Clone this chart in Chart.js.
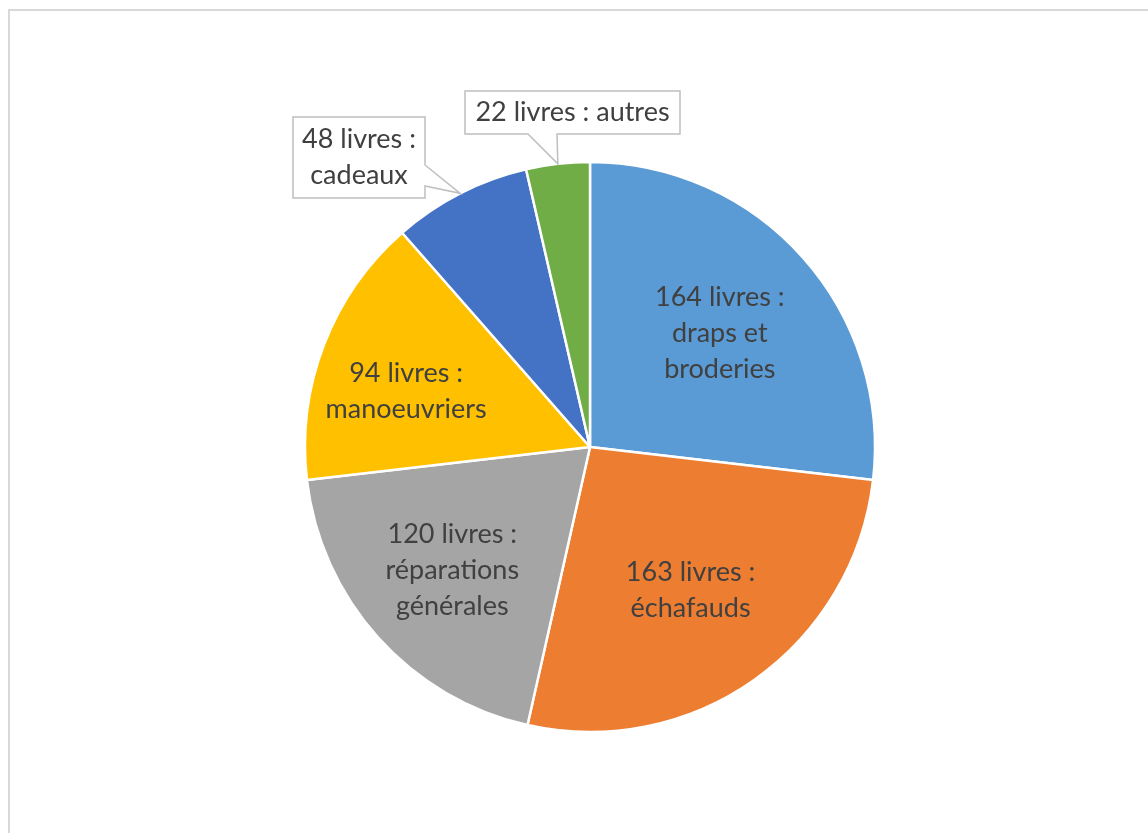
<!DOCTYPE html>
<html>
<head>
<meta charset="utf-8">
<script src="https://cdn.jsdelivr.net/npm/chart.js@4"></script>
<style>
  html, body { margin: 0; padding: 0; background: #ffffff; }
  canvas { display: block; }
</style>
</head>
<body>
<canvas id="c" width="1148" height="833"></canvas>
<script>
// ---- Data ----
const categories = ["draps et broderies", "échafauds", "réparations générales", "manoeuvriers", "cadeaux", "autres"];
const values = [164, 163, 120, 94, 48, 22];
const unitLabel = "livres";
const labelLines = [
  ["164 livres :", "draps et", "broderies"],
  ["163 livres :", "échafauds"],
  ["120 livres :", "réparations", "générales"],
  ["94 livres :", "manoeuvriers"],
  ["48 livres :", "cadeaux"],
  ["22 livres : autres"]
];
const colors = ["#5B9BD5", "#ED7D31", "#A5A5A5", "#FFC000", "#4472C4", "#70AD47"];

const FONT = "27px Lato, 'Open Sans', sans-serif";
const TEXT_COLOR = "#404040";
const LINE_H = 36;

// Label placement (layout options)
const insideFrac = [0.61, 0.61, 0.65, 0.68];
const insideShift = [[0, 2], [0, 2], [0, -1], [-3, 14]];
const callouts = {
  4: { box: [293, 117, 425, 198], wedge: "right", base: [165, 186] },
  5: { box: [465, 91, 680, 134], wedge: "bottom", base: [528, 557] }
};

const framePlugin = {
  id: "frame",
  beforeDraw(chart) {
    const ctx = chart.ctx;
    ctx.save();
    ctx.fillStyle = "#ffffff";
    ctx.fillRect(0, 0, chart.width, chart.height);
    ctx.strokeStyle = "#D9D9D9";
    ctx.lineWidth = 2;
    ctx.strokeRect(9, 10, chart.width + 20, chart.height + 20);
    ctx.restore();
  }
};

const labelPlugin = {
  id: "sliceLabels",
  afterDatasetsDraw(chart) {
    const ctx = chart.ctx;
    const meta = chart.getDatasetMeta(0);
    ctx.save();
    ctx.font = FONT;
    ctx.textAlign = "center";
    ctx.textBaseline = "middle";
    meta.data.forEach((arc, i) => {
      const p = arc.getProps(["x", "y", "startAngle", "endAngle", "outerRadius"], true);
      const mid = (p.startAngle + p.endAngle) / 2;
      const lines = labelLines[i];
      if (callouts[i]) {
        const c = callouts[i];
        const tipX = p.x + Math.cos(mid) * p.outerRadius;
        const tipY = p.y + Math.sin(mid) * p.outerRadius;
        const [x0, y0, x1, y1] = c.box;
        ctx.beginPath();
        ctx.moveTo(x0, y0);
        ctx.lineTo(x1, y0);
        if (c.wedge === "right") {
          ctx.lineTo(x1, c.base[0]);
          ctx.lineTo(tipX, tipY);
          ctx.lineTo(x1, c.base[1]);
          ctx.lineTo(x1, y1);
          ctx.lineTo(x0, y1);
        } else {
          ctx.lineTo(x1, y1);
          ctx.lineTo(c.base[1], y1);
          ctx.lineTo(tipX, tipY);
          ctx.lineTo(c.base[0], y1);
          ctx.lineTo(x0, y1);
        }
        ctx.closePath();
        ctx.fillStyle = "#ffffff";
        ctx.fill();
        ctx.strokeStyle = "#BFBFBF";
        ctx.lineWidth = 1.5;
        ctx.stroke();
        const cx = (x0 + x1) / 2, cy = (y0 + y1) / 2;
        ctx.fillStyle = TEXT_COLOR;
        lines.forEach((t, k) => {
          ctx.fillText(t, cx, cy + (k - (lines.length - 1) / 2) * LINE_H);
        });
      } else {
        const r = p.outerRadius * insideFrac[i];
        const cx = p.x + Math.cos(mid) * r + insideShift[i][0];
        const cy = p.y + Math.sin(mid) * r + insideShift[i][1];
        ctx.fillStyle = TEXT_COLOR;
        lines.forEach((t, k) => {
          ctx.fillText(t, cx, cy + (k - (lines.length - 1) / 2) * LINE_H);
        });
      }
    });
    ctx.restore();
  }
};

new Chart(document.getElementById("c"), {
  type: "pie",
  data: {
    labels: categories,
    datasets: [{
      data: values,
      backgroundColor: colors,
      borderColor: "#ffffff",
      borderWidth: 2.5,
      hoverOffset: 0
    }]
  },
  options: {
    responsive: false,
    animation: false,
    devicePixelRatio: 1,
    radius: 285,
    layout: { padding: { left: 300, right: 268, top: 157, bottom: 96 } },
    plugins: {
      legend: { display: false },
      tooltip: { enabled: false },
      title: { display: false }
    },
    events: []
  },
  plugins: [framePlugin, labelPlugin]
});
</script>
</body>
</html>
